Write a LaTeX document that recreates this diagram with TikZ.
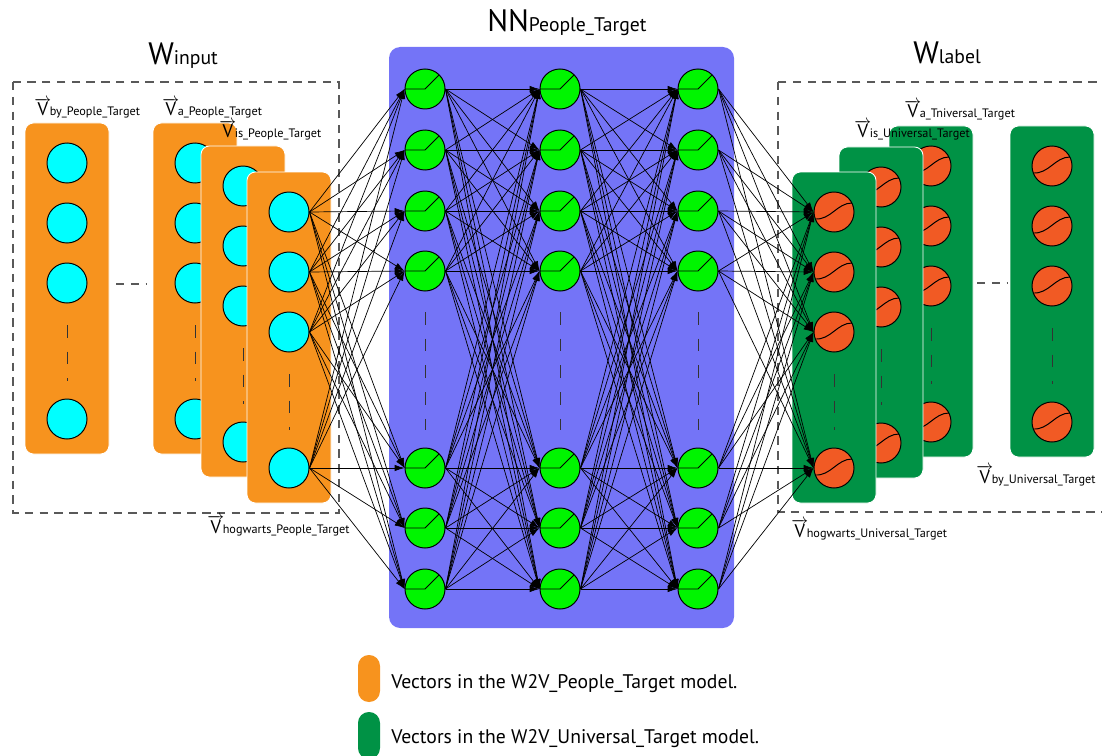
\documentclass[tikz,border=0pt]{standalone}
\usepackage{fontspec}
\setmainfont{PT Sans}
\usetikzlibrary{positioning,arrows.meta}

\definecolor{arancio}{RGB}{247,147,30}
\definecolor{ciano}{RGB}{0,255,255}
\definecolor{lilla}{RGB}{116,116,247}
\definecolor{verdino}{RGB}{0,245,0}
\definecolor{verdone}{RGB}{0,146,69}
\definecolor{rossiccio}{RGB}{241,90,36}

\newcommand{\vett}[1]{{\fontsize{13}{13}\selectfont$\overrightarrow{\hbox{V}}$\kern-1pt}{\fontsize{8.7}{8.7}\selectfont #1}}
\newcommand{\titolo}[2]{{\fontsize{22}{22}\selectfont #1}{\fontsize{14}{14}\selectfont #2}}

\tikzset{
  neurone/.style={circle, draw, line width=0.7pt, minimum size=1cm, inner sep=0pt},
  ingresso/.style={neurone, fill=ciano},
  relu/.style={neurone, fill=verdino, path picture={\draw[line width=0.7pt, shift={(path picture bounding box.center)}] (-20,0) -- (0,0) -- (14,-14);}},
  sigm/.style={neurone, fill=rossiccio, path picture={\draw[line width=0.7pt, shift={(path picture bounding box.center)}] (-19,7) .. controls (-3,8) and (3,-9) .. (18,-9);}},
  scatola/.style={rounded corners=6pt, draw=white, line width=0.6pt},
  cornice/.style={draw=black!65, line width=0.8pt, dash pattern=on 6pt off 4.5pt},
  puntini/.style={draw=black!80, line width=0.7pt, dash pattern=on 9pt off 10pt},
  freccia/.style={-{Latex[length=7pt,width=4.5pt]}, line width=0.5pt},
  etich/.style={anchor=base west, inner sep=0pt, text=black}
}

\begin{document}
\begin{tikzpicture}[x=0.025cm, y=-0.025cm]
  \useasboundingbox (0,0) rectangle (1102,755);

  % Cornici tratteggiate
  \draw[cornice] (13,82) rectangle (339,513);
  \draw[cornice] (778,82) rectangle (1120,512);
  \draw[cornice] (116,284) -- (147,284);
  \draw[cornice] (977,283) -- (1007,283);

  % Rete neurale
  \path[fill=lilla, rounded corners=8pt] (389,47) rectangle (734,628);

  % Vettori di ingresso
  \foreach \nome/\bx/\by in {by/25/123, a/153/123, is/201/146, hog/247/172} {
    \path[scatola, fill=arancio] (\bx,\by) rectangle ++(84,331);
    \foreach \k/\dy in {1/40, 2/100, 3/160, 4/296}
      \node[ingresso] (in-\nome-\k) at (\bx+42,\by+\dy) {};
    \draw[puntini] (\bx+42,\by+202) -- (\bx+42,\by+258);
  }

  % Vettori di uscita
  \foreach \nome/\bx/\by in {by/1010/126, a/889/126, is/839/147, hog/792/172} {
    \path[scatola, fill=verdone] (\bx,\by) rectangle ++(84,331);
    \foreach \k/\dy in {1/40, 2/100, 3/160, 4/296}
      \node[sigm] (out-\nome-\k) at (\bx+42,\by+\dy) {};
    \draw[puntini] (\bx+42,\by+202) -- (\bx+42,\by+258);
  }

  % Strati nascosti
  \foreach \c/\cx in {1/425, 2/560, 3/698} {
    \foreach \r/\ry in {1/89, 2/150, 3/211, 4/271, 5/468, 6/528, 7/589}
      \node[relu] (h\c-\r) at (\cx,\ry) {};
    \draw[puntini] (\cx,312) -- (\cx,430);
  }

  % Collegamenti
  \foreach \i in {1,...,4}
    \foreach \j in {1,...,7}
      \draw[freccia] (in-hog-\i.east) -- (h1-\j.west);
  \foreach \i in {1,...,7}
    \foreach \j in {1,...,7} {
      \draw[freccia] (h1-\i.east) -- (h2-\j.west);
      \draw[freccia] (h2-\i.east) -- (h3-\j.west);
    }
  \foreach \i in {1,...,7}
    \foreach \j in {1,...,4}
      \draw[freccia] (h3-\i.east) -- (out-hog-\j.west);

  % Titoli
  \node[etich] (t-in) at (148,65) {\titolo{W}{input}};
  \node[etich] (t-nn) at (487,32) {\titolo{NN}{People\_Target}};
  \node[etich] (t-lab) at (913,64) {\titolo{W}{label}};

  % Etichette dei vettori
  \node[etich] (l-by-p) at (34,116) {\vett{by\_People\_Target}};
  \node[etich] (l-a-p) at (162,116) {\vett{a\_People\_Target}};
  \node[etich] (l-is-p) at (219,138) {\vett{is\_People\_Target}};
  \node[etich] (l-hog-p) at (207,533) {\vett{hogwarts\_People\_Target}};
  \node[etich] (l-a-u) at (904,118) {\vett{a\_Tniversal\_Target}};
  \node[etich] (l-is-u) at (854,138) {\vett{is\_Universal\_Target}};
  \node[etich] (l-by-u) at (976,483) {\vett{by\_Universal\_Target}};
  \node[etich] (l-hog-u) at (791,537) {\vett{hogwarts\_Universal\_Target}};

  % Legenda
  \path[fill=arancio, rounded corners=0.27cm] (358,655) rectangle (380,702);
  \path[fill=verdone, rounded corners=0.27cm] (358,712) rectangle (380,759);
  \node[etich, font=\fontsize{14}{14}\selectfont] (leg-1) at (391,688) {Vectors in the W2V\_People\_Target model.};
  \node[etich, font=\fontsize{14}{14}\selectfont] (leg-2) at (391,743) {Vectors in the W2V\_Universal\_Target model.};
\end{tikzpicture}
\end{document}
